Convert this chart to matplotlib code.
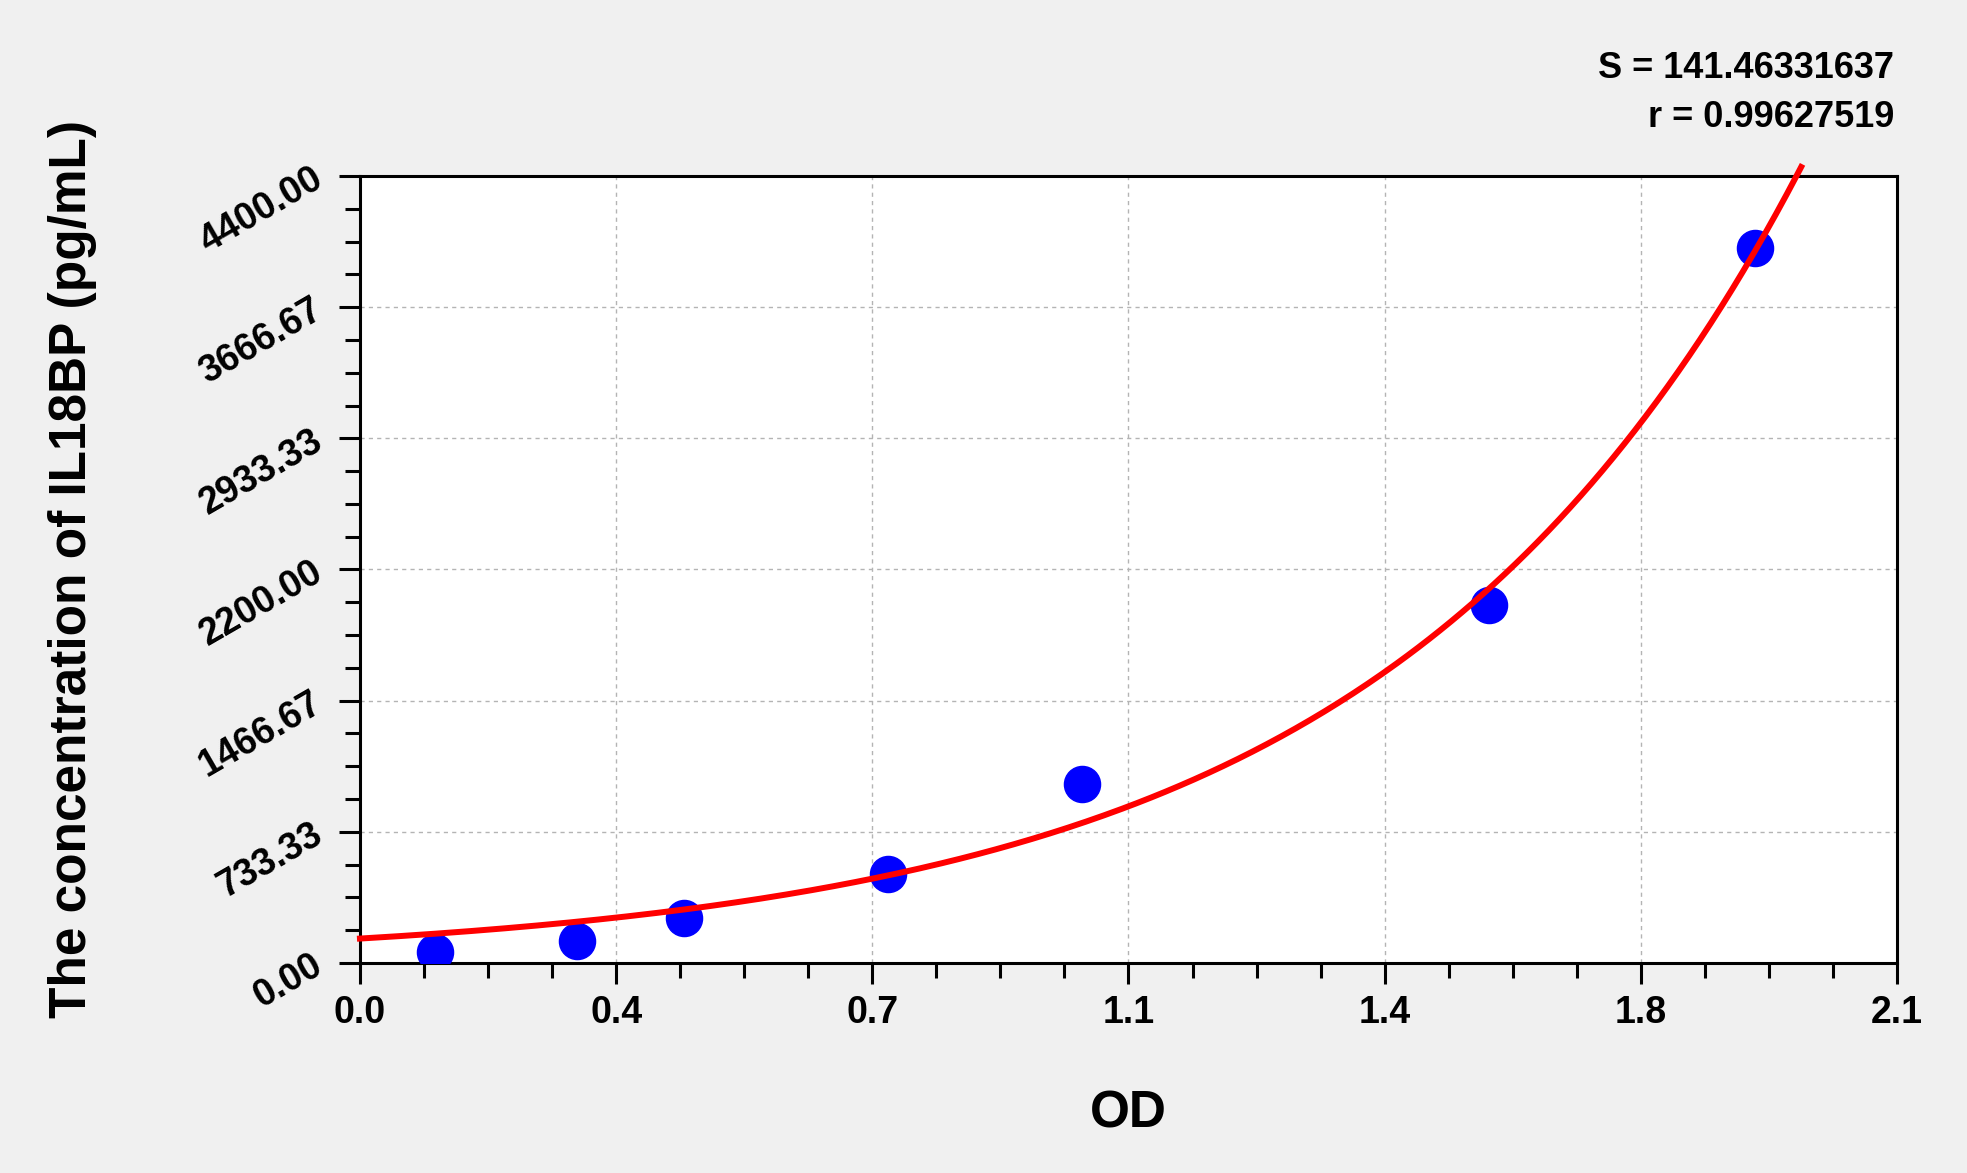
import numpy as np
import matplotlib
matplotlib.use("Agg")
import matplotlib.pyplot as plt
from matplotlib.ticker import FixedLocator, MultipleLocator

plt.rcParams['font.family'] = ['Liberation Sans', 'DejaVu Sans']
plt.rcParams['font.weight'] = 'bold'

# standard curve points
od = [0.103, 0.297, 0.443, 0.721, 0.986, 1.543, 1.906]
conc = [62.5, 125, 250, 500, 1000, 2000, 4000]

stat_lines = ["S = 141.46331637", "r = 0.99627519"]
x_ticks = [0.0, 0.35, 0.7, 1.05, 1.4, 1.75, 2.1]
x_labels = ["0.0", "0.4", "0.7", "1.1", "1.4", "1.8", "2.1"]
y_ticks = [0.0, 733.33, 1466.67, 2200.0, 2933.33, 3666.67, 4400.0]
y_labels = ["0.00", "733.33", "1466.67", "2200.00", "2933.33", "3666.67", "4400.00"]

# exponential fit y = A*exp(b*x), least squares
xd = np.array(od)
yd = np.array(conc)
best = None
for b in np.linspace(0.5, 4.0, 7001):
    e = np.exp(b * xd)
    a = (yd * e).sum() / (e * e).sum()
    sse = ((yd - a * e) ** 2).sum()
    if best is None or sse < best[0]:
        best = (sse, a, b)
_, fit_a, fit_b = best

fig = plt.figure(figsize=(19.67, 11.73), dpi=100, facecolor='#f0f0f0')
ax = fig.add_axes([0.1830, 0.1790, 0.7814, 0.6710])
ax.set_facecolor('white')

x_end = np.log(4450 / fit_a) / fit_b
xc = np.linspace(0, x_end, 400)
ax.plot(xc, fit_a * np.exp(fit_b * xc), color='#ff0000', lw=4.3, clip_on=False, zorder=4)
ax.plot(od, conc, 'o', color='#0000ff', markersize=26, zorder=3)

ax.set_xlim(0, 2.1)
ax.set_ylim(0, 4400)
ax.xaxis.set_major_locator(FixedLocator(x_ticks))
ax.xaxis.set_minor_locator(MultipleLocator(0.0875))
ax.yaxis.set_major_locator(FixedLocator(y_ticks))
ax.yaxis.set_minor_locator(MultipleLocator(4400 / 24))
ax.set_xticklabels(x_labels, fontsize=27, fontweight='bold')
ax.set_yticklabels(y_labels, fontsize=27, fontweight='bold',
                   rotation=30, rotation_mode='anchor', ha='right', va='center')

ax.tick_params(which='major', direction='out', length=15, width=2.2, pad=8)
ax.tick_params(which='minor', direction='out', length=11, width=2.2)
ax.tick_params(axis='y', which='major', pad=14)
for s in ax.spines.values():
    s.set_linewidth(2.2)
ax.grid(True, which='major', color='#b4b4b4', linestyle=(0, (3, 3)), lw=1.0)
ax.set_axisbelow(True)

ax.set_xlabel("OD", fontsize=37, fontweight='bold', labelpad=42)
ax.set_ylabel("The concentration of IL18BP (pg/mL)", fontsize=37, fontweight='bold')
ax.yaxis.set_label_coords(-0.171, 0.5)

fig.text(0.963, 0.9335, stat_lines[0], ha='right', va='baseline', fontsize=26, fontweight='bold')
fig.text(0.963, 0.8917, stat_lines[1], ha='right', va='baseline', fontsize=26, fontweight='bold')

fig.savefig("out.png", dpi=100, facecolor=fig.get_facecolor())
